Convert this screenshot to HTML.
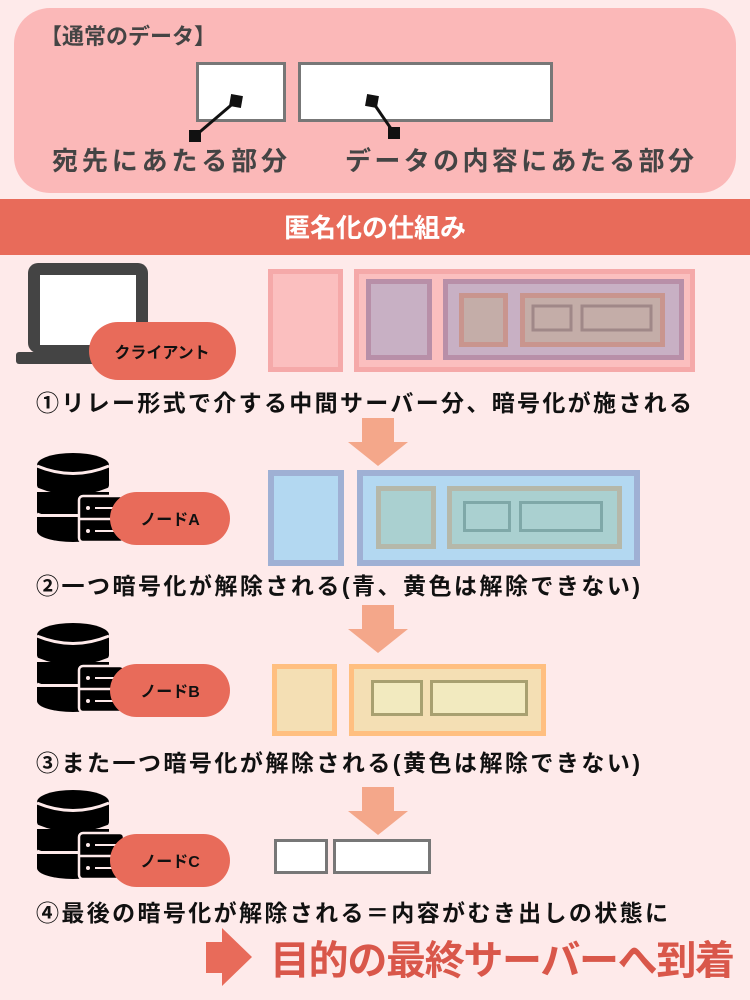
<!DOCTYPE html>
<html><head><meta charset="utf-8"><style>
html,body{margin:0;padding:0;background:#feeaea;}
svg{display:block}
text{font-family:"Liberation Sans","Noto Sans CJK JP",sans-serif;}
</style></head><body>
<svg width="750" height="1000" viewBox="0 0 750 1000" xmlns="http://www.w3.org/2000/svg">
<defs>
<g id="db">
  <ellipse cx="36" cy="13" rx="36" ry="12" fill="#000"/>
  <rect x="0" y="13" width="72" height="20" fill="#000"/>
  <ellipse cx="36" cy="33" rx="36" ry="12" fill="#000"/>
  <path d="M0 37 Q36 52 72 37" stroke="#feeaea" stroke-width="3" fill="none"/>
  <rect x="0" y="40" width="72" height="22" fill="#000"/>
  <path d="M0 62 Q36 77 72 62" stroke="#feeaea" stroke-width="3" fill="none"/>
  <rect x="0" y="65" width="72" height="14" fill="#000"/>
  <ellipse cx="36" cy="79" rx="36" ry="11" fill="#000"/>
  <path d="M0 14 Q36 29 72 14" stroke="#feeaea" stroke-width="3" fill="none"/>
  <rect x="42" y="44" width="45" height="46" rx="4" fill="#000" stroke="#feeaea" stroke-width="2.5"/>
  <line x1="42" y1="67" x2="87" y2="67" stroke="#feeaea" stroke-width="2.5"/>
  <circle cx="51" cy="56" r="2" fill="#feeaea"/><circle cx="51" cy="79" r="2" fill="#feeaea"/>
  <line x1="58" y1="56" x2="80" y2="56" stroke="#feeaea" stroke-width="2"/>
  <line x1="58" y1="79" x2="80" y2="79" stroke="#feeaea" stroke-width="2"/>
</g>
<g id="arr"><rect x="-16" y="0" width="32" height="24" fill="#f4a78a"/><polygon points="-30,24 30,24 0,48" fill="#f4a78a"/></g>
</defs>
<rect width="750" height="1000" fill="#feeaea"/>
<!-- top box -->
<rect x="14" y="8" width="722" height="185" rx="36" fill="#fbb8b8"/>
<text x="40" y="44" font-size="22" font-weight="bold" fill="#444">【通常のデータ】</text>
<rect x="197.5" y="63.5" width="87" height="57" fill="#fff" stroke="#777" stroke-width="3"/>
<rect x="299.5" y="63.5" width="252" height="57" fill="#fff" stroke="#777" stroke-width="3"/>
<line x1="236" y1="101" x2="195" y2="136" stroke="#111" stroke-width="3"/>
<rect x="230" y="95" width="12" height="12" fill="#111" transform="rotate(10 236 101)"/>
<rect x="189" y="130" width="12" height="12" fill="#111"/>
<line x1="372" y1="101" x2="394" y2="133" stroke="#111" stroke-width="3"/>
<rect x="366" y="95" width="12" height="12" fill="#111" transform="rotate(10 372 101)"/>
<rect x="388" y="127" width="12" height="12" fill="#111"/>
<text x="52" y="170" font-size="26" font-weight="bold" fill="#444" textLength="235">宛先にあたる部分</text>
<text x="345" y="170" font-size="26" font-weight="bold" fill="#444" textLength="349">データの内容にあたる部分</text>
<!-- header -->
<rect x="0" y="199" width="750" height="56" fill="#e86b5a"/>
<text x="375" y="237" font-size="26" font-weight="bold" fill="#fff" text-anchor="middle">匿名化の仕組み</text>
<!-- section 1 laptop -->
<rect x="28" y="263" width="120" height="90" rx="10" fill="#444"/>
<rect x="40" y="275" width="96" height="70" fill="#fff"/>
<rect x="16" y="352" width="100" height="12" rx="3" fill="#444"/>
<rect x="89" y="322" width="147" height="58" rx="29" fill="#e86b5a"/>
<text x="162" y="358" font-size="16" font-weight="bold" fill="#111" text-anchor="middle">クライアント</text>
<rect x="268" y="269" width="75" height="103" fill="#f5a9a9"/>
<rect x="273" y="274" width="65" height="93" fill="#fbbfbf"/>
<rect x="354" y="269" width="341" height="103" fill="#f5a9a9"/>
<rect x="359" y="274" width="331" height="93" fill="#fbbfbf"/>
<rect x="366" y="279" width="66" height="81" fill="#b88fa8"/>
<rect x="371" y="284" width="56" height="71" fill="#c8b0c4"/>
<rect x="443" y="279" width="241" height="81" fill="#b88fa8"/>
<rect x="448" y="284" width="231" height="71" fill="#c8b0c4"/>
<rect x="459" y="293" width="49" height="54" fill="#c9958e"/>
<rect x="464" y="298" width="39" height="44" fill="#c4ada8"/>
<rect x="520" y="293" width="145" height="54" fill="#c9958e"/>
<rect x="525" y="298" width="135" height="44" fill="#c4ada8"/>
<rect x="533" y="306" width="38" height="24" fill="none" stroke="#a08888" stroke-width="3"/>
<rect x="582" y="306" width="69" height="24" fill="none" stroke="#a08888" stroke-width="3"/>
<text x="36" y="411" font-size="23" font-weight="bold" fill="#111" textLength="656">①リレー形式で介する中間サーバー分、暗号化が施される</text>
<use href="#arr" x="378" y="418"/>
<!-- section 2 -->
<use href="#db" x="37" y="452"/>
<rect x="110" y="492" width="120" height="53" rx="26.5" fill="#e86b5a"/>
<text x="170" y="525" font-size="16" font-weight="bold" fill="#111" text-anchor="middle">ノードA</text>
<rect x="268" y="470" width="76" height="96" fill="#9fb0d4"/>
<rect x="274" y="476" width="64" height="84" fill="#b3d8f1"/>
<rect x="357" y="470" width="283" height="96" fill="#9fb0d4"/>
<rect x="363" y="476" width="271" height="84" fill="#b3d8f1"/>
<rect x="376" y="486" width="60" height="63" fill="#b5b8aa"/>
<rect x="381" y="491" width="50" height="53" fill="#aad0d0"/>
<rect x="447" y="486" width="175" height="63" fill="#b5b8aa"/>
<rect x="452" y="491" width="165" height="53" fill="#aad0d0"/>
<rect x="464.5" y="502.5" width="45" height="28" fill="none" stroke="#7fa8a8" stroke-width="3"/>
<rect x="520.5" y="502.5" width="81" height="28" fill="none" stroke="#7fa8a8" stroke-width="3"/>
<text x="36" y="594" font-size="23" font-weight="bold" fill="#111" textLength="604">②一つ暗号化が解除される(青、黄色は解除できない)</text>
<use href="#arr" x="378" y="605"/>
<!-- section 3 -->
<use href="#db" x="37" y="622"/>
<rect x="110" y="664" width="120" height="53" rx="26.5" fill="#e86b5a"/>
<text x="170" y="697" font-size="16" font-weight="bold" fill="#111" text-anchor="middle">ノードB</text>
<rect x="272" y="664" width="65" height="72" fill="#ffbf80"/>
<rect x="277" y="669" width="55" height="62" fill="#f4dfb4"/>
<rect x="349" y="664" width="197" height="72" fill="#ffbf80"/>
<rect x="354" y="669" width="187" height="62" fill="#f4dfb4"/>
<rect x="372.5" y="681.5" width="49" height="33" fill="#f2eabf" stroke="#a8a070" stroke-width="3"/>
<rect x="431.5" y="681.5" width="95" height="33" fill="#f2eabf" stroke="#a8a070" stroke-width="3"/>
<text x="36" y="771" font-size="23" font-weight="bold" fill="#111" textLength="604">③また一つ暗号化が解除される(黄色は解除できない)</text>
<use href="#arr" x="378" y="787"/>
<!-- section 4 -->
<use href="#db" x="37" y="789"/>
<rect x="110" y="834" width="120" height="53" rx="26.5" fill="#e86b5a"/>
<text x="170" y="867" font-size="16" font-weight="bold" fill="#111" text-anchor="middle">ノードC</text>
<rect x="275.5" y="840.5" width="51" height="32" fill="#fff" stroke="#777" stroke-width="3"/>
<rect x="334.5" y="840.5" width="95" height="32" fill="#fff" stroke="#777" stroke-width="3"/>
<text x="36" y="921" font-size="23" font-weight="bold" fill="#111" textLength="632">④最後の暗号化が解除される＝内容がむき出しの状態に</text>
<rect x="206" y="942" width="28" height="31" fill="#e86b5a"/>
<polygon points="222,928 252,957 222,986" fill="#e86b5a"/>
<text x="270" y="974" font-size="40" font-weight="bold" fill="#d9574a" textLength="465">目的の最終サーバーへ到着</text>
</svg>
</body></html>
